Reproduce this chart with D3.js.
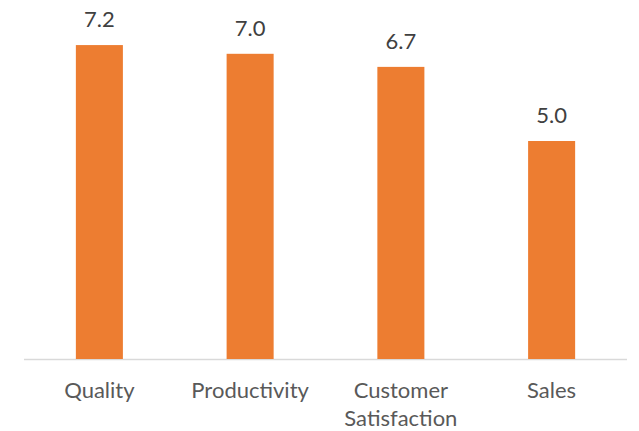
<!DOCTYPE html>
<html><head><meta charset="utf-8">
<script src="https://cdn.jsdelivr.net/npm/d3@7"></script>
<style>body{margin:0;background:#fff}svg{display:block}</style>
</head><body>
<svg id="c" width="639" height="431"></svg>
<script>
const categories = [["Quality"], ["Productivity"], ["Customer", "Satisfaction"], ["Sales"]];
const values = [7.2, 7.0, 6.7, 5.0];

const svg = d3.select("#c");
const x = d3.scaleBand().domain(d3.range(categories.length)).range([24, 627]).paddingInner(0.688).paddingOuter(0.344);
const y = d3.scaleLinear().domain([0, 8]).range([359, 10.2]);
const font = "Lato, 'Open Sans', sans-serif";

svg.append("line").attr("x1", 24).attr("x2", 627).attr("y1", y(0) + 0.5).attr("y2", y(0) + 0.5)
  .attr("stroke", "#d9d9d9").attr("stroke-width", 1.5);

svg.selectAll("rect.bar").data(values).join("rect").attr("class", "bar")
  .attr("x", (d, i) => x(i)).attr("width", x.bandwidth())
  .attr("y", d => y(d)).attr("height", d => y(0) - y(d))
  .attr("fill", "#ED7D31");

svg.selectAll("text.val").data(values).join("text").attr("class", "val")
  .attr("x", (d, i) => x(i) + x.bandwidth() / 2).attr("y", d => y(d) - 18)
  .attr("text-anchor", "middle").attr("font-family", font).attr("font-size", 22)
  .attr("fill", "#404040").text(d => d.toFixed(1));

const lab = svg.selectAll("text.cat").data(categories).join("text").attr("class", "cat")
  .attr("x", (d, i) => x(i) + x.bandwidth() / 2).attr("y", 398)
  .attr("text-anchor", "middle").attr("font-family", font).attr("font-size", 22)
  .attr("fill", "#595959");
lab.selectAll("tspan").data(d => d).join("tspan")
  .attr("x", function() { return this.parentNode.getAttribute("x"); })
  .attr("dy", (d, i) => i === 0 ? 0 : 28).text(d => d);
</script>
</body></html>
